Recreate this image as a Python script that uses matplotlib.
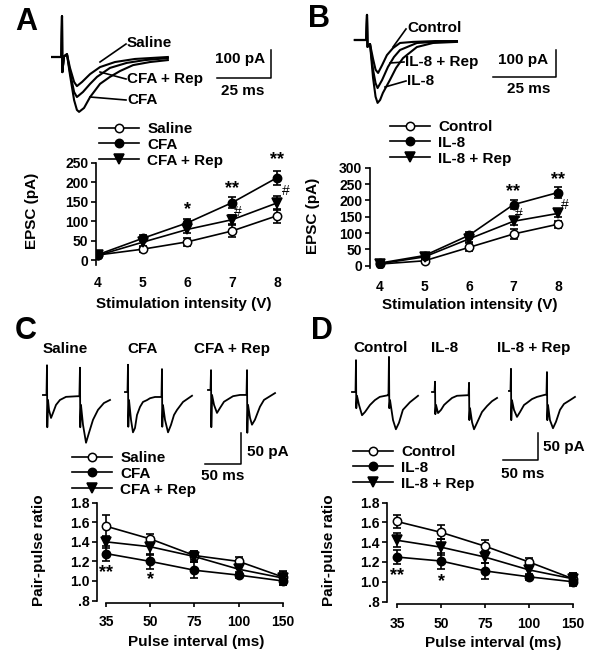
import matplotlib
matplotlib.use('Agg')
import matplotlib.pyplot as plt
from matplotlib.transforms import Affine2D
from matplotlib.lines import Line2D

plt.rcParams['font.family'] = ['Liberation Sans', 'DejaVu Sans']
plt.rcParams['font.weight'] = 'bold'
plt.rcParams['axes.linewidth'] = 1.2

# ---------------- data ----------------
intensity = [4, 5, 6, 7, 8]
a_labels = ['Saline', 'CFA', 'CFA + Rep']
a_saline = [13, 28, 47, 75, 114]
a_saline_err = [5, 6, 11, 16, 18]
a_cfa = [14, 56, 96, 148, 212]
a_cfa_err = [5, 8, 10, 14, 18]
a_rep = [12, 46, 79, 104, 147]
a_rep_err = [5, 10, 10, 12, 18]

b_labels = ['Control', 'IL-8', 'IL-8 + Rep']
b_control = [5, 15, 56, 97, 127]
b_control_err = [4, 6, 12, 16, 11]
b_il8 = [8, 31, 93, 187, 224]
b_il8_err = [4, 6, 10, 14, 17]
b_rep = [6, 27, 82, 136, 160]
b_rep_err = [4, 7, 10, 12, 10]

intervals = ['35', '50', '75', '100', '150']
c_saline = [1.56, 1.43, 1.26, 1.20, 1.04]
c_saline_err = [0.11, 0.05, 0.05, 0.04, 0.05]
c_cfa = [1.28, 1.20, 1.11, 1.06, 1.00]
c_cfa_err = [0.08, 0.08, 0.08, 0.03, 0.04]
c_rep = [1.40, 1.35, 1.25, 1.12, 1.03]
c_rep_err = [0.06, 0.08, 0.06, 0.05, 0.07]

d_control = [1.61, 1.50, 1.36, 1.20, 1.03]
d_control_err = [0.07, 0.07, 0.06, 0.04, 0.06]
d_il8 = [1.25, 1.21, 1.11, 1.05, 1.00]
d_il8_err = [0.07, 0.08, 0.08, 0.03, 0.04]
d_rep = [1.42, 1.35, 1.25, 1.12, 1.03]
d_rep_err = [0.07, 0.08, 0.06, 0.05, 0.06]

# example traces (time in ms, current in pA)
a_tr_saline_t = [-4.6, -0.3, 0, 0.15, 0.9, 2.3, 3.7, 5.6, 6.9, 9.3, 13, 17.6, 24.5, 33.8, 49]
a_tr_saline_i = [0, 0, 146, -54, 2, 10, -39, -89, -104, -89, -61, -36, -18, -7, 0]
a_tr_rep_t = [-4.6, -0.3, 0, 0.15, 0.9, 2.3, 3.7, 5.6, 6.9, 9.7, 13, 16.2, 22.2, 30, 38.4, 49]
a_tr_rep_i = [0, 0, 146, -54, 2, 10, -54, -125, -143, -125, -96, -71, -39, -21, -11, -4]
a_tr_cfa_t = [-4.6, -0.3, 0, 0.15, 0.9, 2.3, 3.7, 5.6, 6.9, 7.9, 10.2, 13, 17.6, 22.2, 26.9, 32.9, 40.7, 49]
a_tr_cfa_i = [0, 0, 146, -54, 2, 10, -64, -154, -189, -196, -182, -143, -96, -71, -50, -29, -18, -11]

b_tr_control_t = [-4.8, -0.3, 0, 0.2, 1.2, 2.4, 3.4, 4.4, 6, 7.9, 10.3, 13.1, 18.3, 27, 35.7]
b_tr_control_i = [0, 0, 93, -25, -15, -70, -110, -122, -93, -56, -30, -11, -7, -4, -4]
b_tr_rep_t = [-4.8, -0.3, 0, 0.2, 1.2, 2.4, 3.4, 4.2, 6, 8.3, 10.7, 13.1, 19.8, 27, 35.7]
b_tr_rep_i = [0, 0, 93, -25, -15, -110, -160, -178, -148, -100, -63, -37, -11, -7, -4]
b_tr_il8_t = [-4.8, -0.3, 0, 0.2, 1.2, 2.4, 3.4, 4.2, 5.2, 6.3, 9.1, 11.5, 14.3, 19.8, 26.2, 35.7]
b_tr_il8_i = [0, 0, 93, -25, -15, -140, -210, -233, -222, -196, -148, -104, -67, -26, -11, -7]

c_tr_saline_t = [-5.6, -0.7, 0, 0.4, 1.4, 2.8, 5.6, 8.3, 12.5, 18, 26.4, 41.7, 45, 45.8, 46.2, 47.2, 50, 54.2, 58.3, 63.9, 70.8, 79, 87.5]
c_tr_saline_i = [0, 0, 48, -52, -8, -24, -37, -29, -16, -8, -3, -2, -2, 44, -52, -16, -48, -77, -61, -40, -24, -13, -8]
c_tr_cfa_t = [-4.2, -0.7, 0, 0.4, 1.4, 4.2, 6.9, 9.7, 12.5, 16.7, 20.8, 26.4, 30.6, 37.5, 46.5, 47.2, 47.6, 48.6, 51.4, 55.6, 59.7, 63.9, 68, 76.4, 88.9]
c_tr_cfa_i = [0, 0, 44, -56, -13, -45, -65, -58, -37, -24, -16, -13, -10, -8, -8, 37, -56, -21, -45, -65, -53, -37, -29, -16, -6]
c_tr_rep_t = [-4.2, -0.7, 0, 0.4, 1.4, 4.2, 8.3, 12.5, 18, 22.2, 30.6, 40.3, 49.3, 50, 50.4, 51.4, 54.2, 56.9, 61, 65.3, 68, 73.6, 77.8, 88.9]
c_tr_rep_i = [0, 0, 32, -60, -8, -24, -37, -29, -19, -16, -10, -8, -8, 32, -69, -24, -45, -56, -48, -35, -27, -16, -13, -5]

d_tr_control_t = [-5.7, -0.7, 0, 0.4, 1.4, 4.3, 8.6, 12.9, 20, 27, 34, 45.7, 46.4, 47.1, 47.6, 48.6, 52.9, 57, 61.4, 67, 77, 88.6]
d_tr_control_i = [0, 0, 59, -30, -7, -24, -43, -37, -24, -15, -9, -6, -6, 65, -30, -15, -52, -69, -57, -33, -19, -7]
d_tr_il8_t = [-4.3, -0.7, 0, 0.4, 1.4, 4.3, 8.6, 12.9, 17.1, 24.3, 31.4, 45.7, 47.9, 48.6, 49, 50, 52.9, 55.7, 60, 67.1, 74.3, 81.4, 88.6]
d_tr_il8_i = [0, 0, 19, -41, -24, -39, -33, -24, -19, -11, -7, -6, -6, 17, -52, -30, -56, -69, -57, -37, -26, -17, -11]
d_tr_rep_t = [-2.9, -0.7, 0, 0.4, 1.4, 4.3, 8.6, 12.9, 18.6, 22.9, 30, 37.1, 48.6, 50.7, 51.4, 51.9, 52.9, 55.7, 60, 64.3, 70, 75.7, 84.3, 91.4]
d_tr_rep_i = [0, 0, 41, -54, -17, -35, -48, -39, -26, -22, -15, -11, -7, -7, 35, -54, -26, -54, -69, -57, -35, -24, -17, -11]

# ---------------- layout helpers ----------------
W, H = 600, 667
fig = plt.figure(figsize=(6, 6.67), dpi=100)
PX = Affine2D().scale(1 / W, -1 / H).translate(0, 1) + fig.transFigure
FS = 11
TFS = 10


def add_ax(l, t, r, b):
    return fig.add_axes([l / W, 1 - b / H, (r - l) / W, (b - t) / H])


def ptext(x, y, s, size=FS, ha='center', va='center', rot=0):
    fig.text(x, y, s, transform=PX, fontsize=size, fontweight='bold',
             ha=ha, va=va, rotation=rot)


def pline(xs, ys, lw=1.2):
    fig.add_artist(Line2D(xs, ys, transform=PX, color='k', lw=lw))


def trace_axes(box, origin, sx, sy):
    l, t, r, b = box
    ax = add_ax(l, t, r, b)
    x0, y0 = origin
    ax.set_xlim((l - x0) / sx, (r - x0) / sx)
    ax.set_ylim((y0 - b) / sy, (y0 - t) / sy)
    ax.axis('off')
    return ax


def series(ax, x, ys, errs, labels):
    styles = [dict(marker='o', mfc='white', ms=6),
              dict(marker='o', mfc='black', ms=6),
              dict(marker='v', mfc='black', ms=6.5)]
    handles = []
    for y, e, lab, st in zip(ys, errs, labels, styles):
        ax.errorbar(x, y, yerr=e, fmt='none', ecolor='k', elinewidth=1.2,
                    capsize=3, capthick=1.2, zorder=2)
        h, = ax.plot(x, y, color='k', lw=1.2, mec='k', mew=1.1, zorder=3,
                     label=lab, **st)
        handles.append(h)
    return handles


def legend(ax, handles, x, y):
    ax.legend(handles=handles, loc='upper left', bbox_to_anchor=(x / W, 1 - y / H),
              bbox_transform=fig.transFigure, frameon=False, fontsize=FS,
              handlelength=2.6, handletextpad=0.55, labelspacing=0.12,
              borderpad=0, borderaxespad=0)


def style_epsc(ax):
    for s in ['top', 'right', 'bottom']:
        ax.spines[s].set_visible(False)
    ax.tick_params(axis='x', length=0, labelsize=TFS)
    ax.tick_params(axis='y', length=3.5, width=1.2, labelsize=TFS, pad=2)
    ax.set_xticks(intensity)


def style_ppr(ax):
    for s in ['top', 'right']:
        ax.spines[s].set_visible(False)
    ax.spines['left'].set_bounds(0.8, 1.8)
    ax.spines['bottom'].set_bounds(0, 4)
    ax.set_yticks([0.8, 1.0, 1.2, 1.4, 1.6, 1.8])
    ax.set_yticklabels(['.8', '1.0', '1.2', '1.4', '1.6', '1.8'])
    ax.set_xticks(range(5))
    ax.set_xticklabels(intervals)
    ax.tick_params(axis='y', length=3.5, width=1.2, labelsize=TFS, pad=2)
    ax.tick_params(axis='x', length=3, width=1.2, labelsize=TFS, pad=6)


# ---------------- Panel A ----------------
axA = add_ax(96, 163, 285, 264.7)
hA = series(axA, intensity, [a_saline, a_cfa, a_rep],
            [a_saline_err, a_cfa_err, a_rep_err], a_labels)
axA.set_xlim(4 - 2 / 44.5, 8 + 8 / 44.5)
axA.set_ylim(-12, 250)
axA.set_yticks([0, 50, 100, 150, 200, 250])
style_epsc(axA)
axA.tick_params(axis='x', pad=8)
legend(axA, hA, 99, 122)
for x, y, s in [(6, 129, '*'), (7, 183, '**'), (8, 258, '**')]:
    axA.text(x, y, s, ha='center', va='center', fontsize=13, fontweight='bold')
for x, y in [(7.13, 123), (8.19, 177)]:
    axA.text(x, y, '#', ha='center', va='center', fontsize=10, fontweight='normal')

trA = trace_axes((40, 0, 300, 140), (62, 57), 2.16, 0.28)
trA.plot(a_tr_saline_t, a_tr_saline_i, color='k', lw=1.5)
trA.plot(a_tr_rep_t, a_tr_rep_i, color='k', lw=1.5)
trA.plot(a_tr_cfa_t, a_tr_cfa_i, color='k', lw=1.5)
trA.plot([71.8, 96.8, 96.8], [-75, -75, 25], color='k', lw=1.1)
ptext(127, 43, 'Saline', ha='left')
ptext(127, 79, 'CFA + Rep', ha='left')
ptext(127, 100, 'CFA', ha='left')
pline([100, 126], [62, 44])
pline([100, 126], [72, 79])
pline([90, 126], [97, 100])
ptext(240, 59, '100 pA')
ptext(243, 91, '25 ms')

# ---------------- Panel B ----------------
axB = add_ax(370, 167.7, 566, 268.3)
hB = series(axB, intensity, [b_control, b_il8, b_rep],
            [b_control_err, b_il8_err, b_rep_err], b_labels)
axB.set_xlim(4 - 10 / 44.5, 8 + 8 / 44.5)
axB.set_ylim(-8, 300)
axB.set_yticks([0, 50, 100, 150, 200, 250, 300])
style_epsc(axB)
axB.tick_params(axis='x', pad=8.5)
legend(axB, hB, 390, 120)
for x, y, s in [(7, 228, '**'), (8, 264, '**')]:
    axB.text(x, y, s, ha='center', va='center', fontsize=13, fontweight='bold')
for x, y in [(7.13, 158), (8.15, 187)]:
    axB.text(x, y, '#', ha='center', va='center', fontsize=10, fontweight='normal')

trB = trace_axes((340, 0, 600, 140), (367, 40), 2.52, 0.27)
trB.plot(b_tr_control_t, b_tr_control_i, color='k', lw=1.5)
trB.plot(b_tr_rep_t, b_tr_rep_i, color='k', lw=1.5)
trB.plot(b_tr_il8_t, b_tr_il8_i, color='k', lw=1.5)
trB.plot([50, 75, 75], [-137, -137, -37], color='k', lw=1.1)
ptext(407, 28, 'Control', ha='left')
ptext(405, 62, 'IL-8 + Rep', ha='left')
ptext(407, 81, 'IL-8', ha='left')
pline([393, 406], [47, 29])
pline([390, 404], [63, 62])
pline([385, 406], [87, 81])
ptext(523, 60, '100 pA')
ptext(529, 89, '25 ms')

# ---------------- Panel C ----------------
axC = add_ax(97, 502.7, 290, 603)
hC = series(axC, range(5), [c_saline, c_cfa, c_rep],
            [c_saline_err, c_cfa_err, c_rep_err], a_labels)
axC.set_xlim(-9 / 44.25, 4 + 7 / 44.25)
axC.set_ylim(0.775, 1.8)
style_ppr(axC)
legend(axC, hC, 72, 451)
axC.text(0, 1.09, '**', ha='center', va='center', fontsize=13, fontweight='bold')
axC.text(1, 1.01, '*', ha='center', va='center', fontsize=13, fontweight='bold')

trC = trace_axes((0, 355, 300, 500), (47, 395), 0.72, 0.62)
c_offsets = [(0, 0), (112.5, 4.8), (227.8, 8.1)]
for (tt, ii), (dt, di) in zip([(c_tr_saline_t, c_tr_saline_i), (c_tr_cfa_t, c_tr_cfa_i),
                                (c_tr_rep_t, c_tr_rep_i)], c_offsets):
    trC.plot([t + dt for t in tt], [i + di for i in ii], color='k', lw=1.3)
trC.plot([219.4, 269.4, 269.4], [-111.3, -111.3, -61.3], color='k', lw=1.1)
ptext(65, 349, 'Saline')
ptext(143, 349, 'CFA')
ptext(232, 349, 'CFA + Rep')
ptext(247, 452, '50 pA', ha='left')
ptext(223, 476, '50 ms')

# ---------------- Panel D ----------------
axD = add_ax(387, 502.7, 580, 604)
hD = series(axD, range(5), [d_control, d_il8, d_rep],
            [d_control_err, d_il8_err, d_rep_err], b_labels)
axD.set_xlim(-10 / 44, 4 + 7 / 44)
axD.set_ylim(0.775, 1.8)
style_ppr(axD)
legend(axD, hD, 353, 445)
axD.text(0, 1.06, '**', ha='center', va='center', fontsize=13, fontweight='bold')
axD.text(1, 1.0, '*', ha='center', va='center', fontsize=13, fontweight='bold')

trD = trace_axes((300, 355, 600, 500), (356, 392), 0.7, 0.54)
d_offsets = [(0, 0), (112.9, 0), (221.4, 1.9)]
for (tt, ii), (dt, di) in zip([(d_tr_control_t, d_tr_control_i), (d_tr_il8_t, d_tr_il8_i),
                                (d_tr_rep_t, d_tr_rep_i)], d_offsets):
    trD.plot([t + dt for t in tt], [i + di for i in ii], color='k', lw=1.3)
trD.plot([210, 260, 260], [-125.9, -125.9, -75.9], color='k', lw=1.1)
ptext(381, 348, 'Control')
ptext(445, 348, 'IL-8')
ptext(534, 348, 'IL-8 + Rep')
ptext(543, 447, '50 pA', ha='left')
ptext(523, 474, '50 ms')

# ---------------- labels ----------------
ptext(26, 22, 'A', size=22)
ptext(319, 19, 'B', size=22)
ptext(26, 331, 'C', size=22)
ptext(322, 331, 'D', size=22)
ptext(32, 211, 'EPSC (pA)', rot=90)
ptext(313, 216, 'EPSC (pA)', rot=90)
ptext(39, 550, 'Pair-pulse ratio', rot=90)
ptext(329, 550, 'Pair-pulse ratio', rot=90)
ptext(184, 304, 'Stimulation intensity (V)')
ptext(470, 305, 'Stimulation intensity (V)')
ptext(196, 642, 'Pulse interval (ms)')
ptext(493, 643, 'Pulse interval (ms)')

fig.savefig('out.png', dpi=100)
